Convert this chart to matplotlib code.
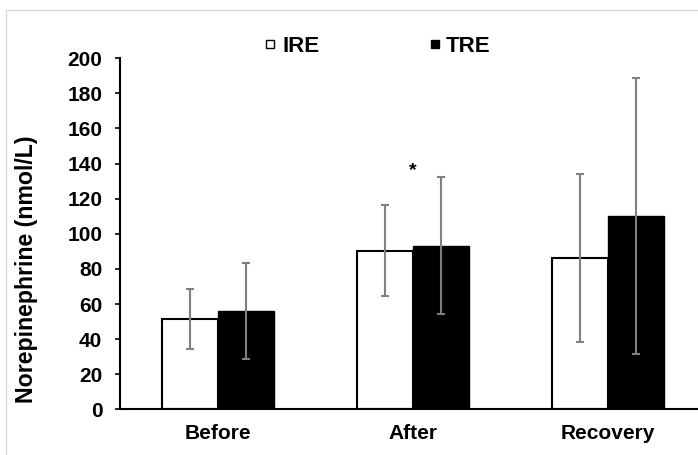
import matplotlib

matplotlib.use("Agg")
import matplotlib.pyplot as plt
from matplotlib.lines import Line2D
from matplotlib.patches import Rectangle
import numpy as np

plt.rcParams["font.family"] = ["Liberation Sans", "DejaVu Sans"]
plt.rcParams["font.weight"] = "bold"

categories = ["Before", "After", "Recovery"]
ire_mean = [51.4, 90.4, 86.2]
ire_sd = [17.3, 26.0, 47.8]
tre_mean = [56.0, 93.2, 110.1]
tre_sd = [27.5, 39.0, 78.8]
star_cat = 1
star_y = 133.7

fig = plt.figure(figsize=(6.98, 4.55), dpi=100)
# light chart-area border (Excel style)
fig.patches.append(Rectangle((6 / 698, -0.1), 1.2, 1.1 - 10 / 455,
                             transform=fig.transFigure, fill=False,
                             edgecolor="#d9d9d9", linewidth=1.0))
ax = fig.add_axes([120.5 / 698, 45.7 / 455, 585 / 698, 351 / 455])

x = np.arange(len(categories))
w = 0.285
err_kw = dict(ecolor="#808080", elinewidth=1.5, capsize=3, capthick=1.5)
ax.bar(x - w / 2, ire_mean, w, yerr=ire_sd, color="white", edgecolor="black",
       linewidth=1.5, error_kw=err_kw, label="IRE")
ax.bar(x + w / 2, tre_mean, w, yerr=tre_sd, color="black", edgecolor="black",
       linewidth=1.0, error_kw=err_kw, label="TRE")

ax.text(x[star_cat], star_y, "*", ha="center", va="baseline",
        fontsize=14, fontweight="bold")

ax.set_xlim(-0.5, 2.5)
ax.set_ylim(0, 200)
ax.set_yticks(np.arange(0, 201, 20))
ax.set_xticks(x)
ax.set_xticklabels(categories, fontsize=15, fontweight="bold")
ax.tick_params(axis="x", length=0, pad=10.5)
ax.tick_params(axis="y", length=3.6, width=1.2, pad=9.5, labelsize=15)
for lab in ax.get_yticklabels():
    lab.set_fontweight("bold")

ax.spines["top"].set_visible(False)
ax.spines["right"].set_visible(False)
ax.spines["left"].set_linewidth(1.5)
ax.spines["bottom"].set_linewidth(1.5)

ax.set_ylabel("Norepinephrine (nmol/L)", fontsize=16.7, fontweight="bold")
ax.yaxis.set_label_coords(-0.1415, 0.40)

handles = [Line2D([], [], marker="s", linestyle="none", markersize=6.2,
                  markerfacecolor="white", markeredgecolor="black",
                  markeredgewidth=1.0),
           Line2D([], [], marker="s", linestyle="none", markersize=6.2,
                  markerfacecolor="black", markeredgecolor="black",
                  markeredgewidth=1.0)]
ax.legend(handles, ["IRE", "TRE"], ncol=2, frameon=False, fontsize=16,
          handlelength=0.4, handletextpad=0.32,
          columnspacing=5.0, loc="center left",
          bbox_to_anchor=((266 - 120.5) / 585, (409.3 - 46.5) / 351),
          borderaxespad=0, borderpad=0)

fig.savefig("out.png", dpi=100)
